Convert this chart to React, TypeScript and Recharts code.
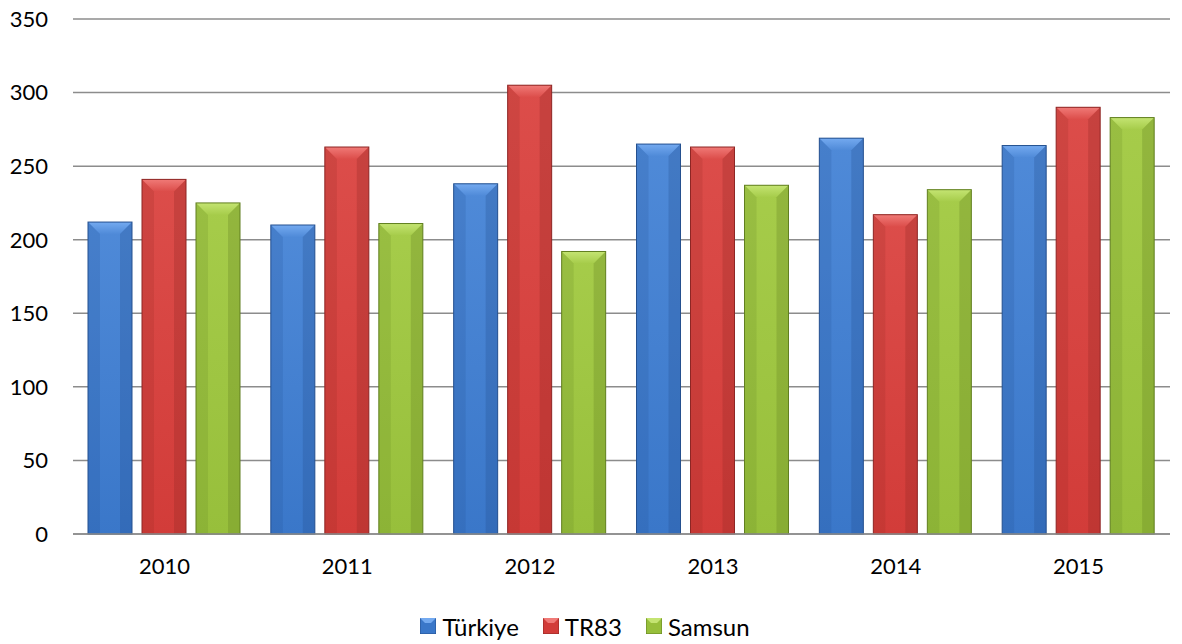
import { BarChart, Bar, XAxis, YAxis, CartesianGrid, Legend } from "recharts";

const years = ["2010", "2011", "2012", "2013", "2014", "2015"];
const turkiye = [212, 210, 238, 265, 269, 264];
const tr83 = [241, 263, 305, 263, 217, 290];
const samsun = [225, 211, 192, 237, 234, 283];
const yTicks = [0, 50, 100, 150, 200, 250, 300, 350];

const data = years.map((y, i) => ({
  year: y,
  "Türkiye": turkiye[i],
  TR83: tr83[i],
  Samsun: samsun[i],
}));

const palette: Record<string, { id: string; dark: string; mid: string; light: string; cap: string }> = {
  "Türkiye": { id: "tk", dark: "#24508f", mid: "#3a77c9", light: "#4f8ad8", cap: "#74aaf0" },
  TR83: { id: "tr", dark: "#8e2624", mid: "#d23c39", light: "#dc4d4a", cap: "#f07a77" },
  Samsun: { id: "sm", dark: "#617f20", mid: "#97bf3b", light: "#a6cc4a", cap: "#c4e472" },
};

function BevelBar(props: any) {
  const { x, y, width, height, name } = props;
  if (!height || height <= 0) return null;
  const c = palette[name] ?? palette["Türkiye"];
  const b = Math.min(12, height / 2, width / 3);
  return (
    <g>
      <rect x={x} y={y} width={width} height={height} fill={`url(#body-${c.id})`} />
      <polygon
        points={`${x},${y} ${x + width},${y} ${x + width - b},${y + b} ${x + b},${y + b}`}
        fill={`url(#cap-${c.id})`}
      />
      <polygon
        points={`${x},${y} ${x + b},${y + b} ${x + b},${y + height} ${x},${y + height}`}
        fill={c.dark}
        opacity={0.18}
      />
      <polygon
        points={`${x + width},${y} ${x + width - b},${y + b} ${x + width - b},${y + height} ${x + width},${y + height}`}
        fill={c.dark}
        opacity={0.28}
      />
      <rect x={x} y={y} width={width} height={height} fill="none" stroke={c.dark} strokeWidth={1} />
    </g>
  );
}

function LegendIcon({ name }: { name: string }) {
  const c = palette[name];
  return (
    <svg width={16} height={16} style={{ marginRight: 6 }}>
      <rect x={0} y={0} width={16} height={16} fill={c.mid} stroke={c.dark} />
      <polygon points="0,0 16,0 11,5 5,5" fill={c.cap} />
    </svg>
  );
}

function LegendBox() {
  return (
    <div style={{ display: "flex", justifyContent: "center", alignItems: "center", height: 28, fontFamily: "Lato, sans-serif", fontSize: 24, color: "#000" }}>
      {["Türkiye", "TR83", "Samsun"].map((n) => (
        <div key={n} style={{ display: "flex", alignItems: "center", margin: "0 12px" }}>
          <LegendIcon name={n} />
          <span>{n}</span>
        </div>
      ))}
    </div>
  );
}

export default function App() {
  return (
    <div style={{ position: "absolute", left: 0, top: 0, background: "#fff" }}>
      <BarChart
        width={1182}
        height={644}
        data={data}
        margin={{ top: 19, right: 12, left: 0, bottom: 4 }}
        barCategoryGap={18}
        barGap={10}
      >
        <defs>
          {Object.values(palette).map((c) => (
            <g key={c.id}>
              <linearGradient id={`body-${c.id}`} x1="0" y1="0" x2="0" y2="1">
                <stop offset="0%" stopColor={c.light} />
                <stop offset="100%" stopColor={c.mid} />
              </linearGradient>
              <linearGradient id={`cap-${c.id}`} x1="0" y1="0" x2="0" y2="1">
                <stop offset="0%" stopColor={c.cap} />
                <stop offset="100%" stopColor={c.light} />
              </linearGradient>
            </g>
          ))}
        </defs>
        <CartesianGrid vertical={false} stroke="#8c8c8c" strokeWidth={1.5} />
        <XAxis
          dataKey="year"
          height={78}
          tickSize={0}
          tickMargin={24}
          axisLine={{ stroke: "#8c8c8c", strokeWidth: 1.5 }}
          tick={{ fill: "#000", fontSize: 22, fontFamily: "Lato, sans-serif" }}
        />
        <YAxis
          width={73}
          domain={[0, 350]}
          ticks={yTicks}
          interval={0}
          tickSize={0}
          tickMargin={25}
          axisLine={false}
          tick={{ fill: "#000", fontSize: 22, fontFamily: "Lato, sans-serif" }}
        />
        <Legend verticalAlign="bottom" content={() => <LegendBox />} />
        <Bar dataKey="Türkiye" barSize={44} fill="#3a77c9" shape={(p: any) => <BevelBar {...p} name="Türkiye" />} isAnimationActive={false} />
        <Bar dataKey="TR83" barSize={44} fill="#d23c39" shape={(p: any) => <BevelBar {...p} name="TR83" />} isAnimationActive={false} />
        <Bar dataKey="Samsun" barSize={44} fill="#97bf3b" shape={(p: any) => <BevelBar {...p} name="Samsun" />} isAnimationActive={false} />
      </BarChart>
    </div>
  );
}
